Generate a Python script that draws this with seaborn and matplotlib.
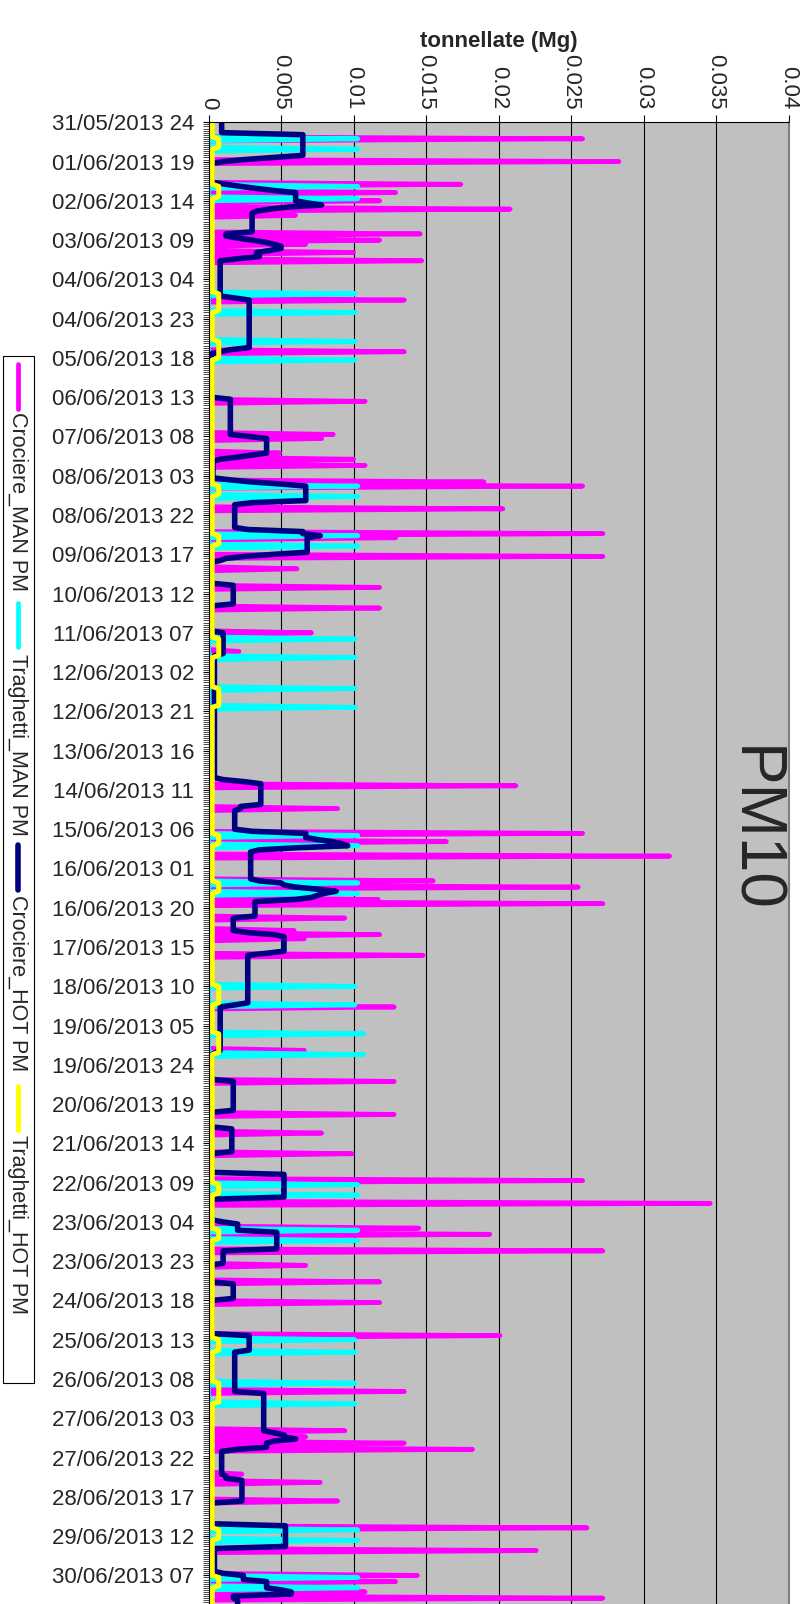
import numpy as np
import pandas as pd
import matplotlib
matplotlib.use("Agg")
import matplotlib.pyplot as plt
from matplotlib.lines import Line2D
from matplotlib.patches import Rectangle
import seaborn as sns

# ---------------------------------------------------------------- data
# hourly series, from 31/05/2013 24 to 30/06/2013 24
N_HOURS = 721

TICK_HOURS = list(range(0, 704, 19))
TICK_LABELS = [
    "31/05/2013 24", "01/06/2013 19", "02/06/2013 14", "03/06/2013 09",
    "04/06/2013 04", "04/06/2013 23", "05/06/2013 18", "06/06/2013 13",
    "07/06/2013 08", "08/06/2013 03", "08/06/2013 22", "09/06/2013 17",
    "10/06/2013 12", "11/06/2013 07", "12/06/2013 02", "12/06/2013 21",
    "13/06/2013 16", "14/06/2013 11", "15/06/2013 06", "16/06/2013 01",
    "16/06/2013 20", "17/06/2013 15", "18/06/2013 10", "19/06/2013 05",
    "19/06/2013 24", "20/06/2013 19", "21/06/2013 14", "22/06/2013 09",
    "23/06/2013 04", "23/06/2013 23", "24/06/2013 18", "25/06/2013 13",
    "26/06/2013 08", "27/06/2013 03", "27/06/2013 22", "28/06/2013 17",
    "29/06/2013 12", "30/06/2013 07",
]

VALUE_TICKS = [0, 0.005, 0.01, 0.015, 0.02, 0.025, 0.03, 0.035, 0.04]
VALUE_TICK_LABELS = ["0", "0.005", "0.01", "0.015", "0.02", "0.025",
                     "0.03", "0.035", "0.04"]

# Crociere_MAN PM: hours with emissions (zero elsewhere)
CROC_MAN_HOURS = [8, 19, 30, 34, 38, 42, 45, 54, 57, 59, 63, 67, 86, 111,
                  135, 151, 153, 160, 163, 166, 174, 176, 187, 199, 201,
                  210, 216, 225, 235, 247, 256, 321, 332, 344, 348, 355,
                  367, 370, 376, 378, 385, 391, 393, 395, 403, 428, 449,
                  464, 480, 489, 499, 512, 523, 535, 538, 546, 553, 561,
                  571, 587, 614, 633, 636, 639, 642, 654, 658, 667, 680,
                  691, 703, 706, 711, 714]
CROC_MAN_VALUES = [0.0258, 0.0283, 0.0174, 0.0129, 0.0118, 0.0208, 0.0060,
                   0.0146, 0.0118, 0.0067, 0.0100, 0.0147, 0.0135, 0.0135,
                   0.0108, 0.0086, 0.0078, 0.0049, 0.0100, 0.0108, 0.0190,
                   0.0258, 0.0203, 0.0272, 0.0129, 0.0272, 0.0061, 0.0118,
                   0.0118, 0.0071, 0.0021, 0.0212, 0.0089, 0.0258, 0.0164,
                   0.0318, 0.0155, 0.0255, 0.0117, 0.0272, 0.0094, 0.0059,
                   0.0118, 0.0066, 0.0148, 0.0128, 0.0066, 0.0128, 0.0128,
                   0.0078, 0.0099, 0.0258, 0.0346, 0.0145, 0.0194, 0.0272,
                   0.0067, 0.0118, 0.0118, 0.0201, 0.0135, 0.0094, 0.0067,
                   0.0135, 0.0182, 0.0023, 0.0077, 0.0089, 0.0261, 0.0226,
                   0.0144, 0.0129, 0.0108, 0.0272]

# Traghetti_MAN PM: hours with emissions (zero elsewhere)
TRAG_MAN_HOURS = [8, 13, 31, 37, 83, 92, 106, 115, 176, 181, 200, 205,
                  250, 259, 274, 283, 345, 350, 368, 373, 418, 427, 441,
                  451, 514, 519, 536, 541, 589, 595, 610, 620, 681, 686,
                  704, 709]
TRAG_MAN_VALUES = [0.0103, 0.0103, 0.0103, 0.0103, 0.0101, 0.0101, 0.0101,
                   0.0101, 0.0103, 0.0103, 0.0103, 0.0103, 0.0101, 0.0101,
                   0.0101, 0.0101, 0.0103, 0.0103, 0.0103, 0.0103, 0.0101,
                   0.0101, 0.0107, 0.0107, 0.0103, 0.0103, 0.0103, 0.0103,
                   0.0101, 0.0101, 0.0101, 0.0101, 0.0103, 0.0103, 0.0103,
                   0.0103]

# Crociere_HOT PM: level held from each listed hour until the next one
CROC_HOT_FROM = [0, 6, 17, 18, 19, 20, 30, 31, 32, 33, 34, 39, 40, 41, 42,
                 43, 44, 54, 56, 57, 58, 59, 60, 62, 63, 64, 66, 67, 85, 86,
                 110, 111, 112, 134, 152, 153, 161, 162, 163, 164, 173, 174,
                 175, 176, 184, 185, 197, 198, 200, 201, 209, 210, 211, 212,
                 213, 224, 234, 247, 258, 318, 319, 320, 331, 333, 343, 344,
                 347, 348, 349, 350, 351, 352, 353, 367, 368, 369, 370, 371,
                 372, 373, 374, 375, 376, 377, 385, 392, 393, 394, 402, 403,
                 427, 428, 450, 451, 464, 479, 487, 499, 509, 521, 532, 533,
                 537, 546, 553, 562, 570, 587, 595, 615, 634, 635, 637, 638,
                 639, 642, 643, 655, 657, 668, 679, 690, 702, 703, 706, 710,
                 711, 713, 715]
CROC_HOT_LEVEL = [0.0009, 0.0065, 0.0045, 0.0025, 0.0010, 0.0002, 0.0012,
                  0.0022, 0.0033, 0.0045, 0.0060, 0.0068, 0.0078, 0.0055,
                  0.0042, 0.0033, 0.0030, 0.0012, 0.0020, 0.0030, 0.0039,
                  0.0045, 0.0050, 0.0042, 0.0033, 0.0035, 0.0020, 0.0008,
                  0.0018, 0.0028, 0.0015, 0.0008, 0.0002, 0.0015, 0.0028,
                  0.0040, 0.0030, 0.0020, 0.0008, 0.0003, 0.0015, 0.0030,
                  0.0050, 0.0067, 0.0030, 0.0018, 0.0027, 0.0065, 0.0077,
                  0.0068, 0.0045, 0.0025, 0.0012, 0.0008, 0.0002, 0.0017,
                  0.0002, 0.0010, 0.0004, 0.0010, 0.0025, 0.0036, 0.0022,
                  0.0018, 0.0030, 0.0067, 0.0075, 0.0085, 0.0092, 0.0096,
                  0.0060, 0.0035, 0.0029, 0.0035, 0.0050, 0.0052, 0.0060,
                  0.0075, 0.0088, 0.0080, 0.0075, 0.0071, 0.0060, 0.0032,
                  0.0017, 0.0027, 0.0045, 0.0052, 0.0040, 0.0027, 0.0018,
                  0.0008, 0.0005, 0.0002, 0.0017, 0.0002, 0.0016, 0.0002,
                  0.0052, 0.0002, 0.0010, 0.0020, 0.0047, 0.0010, 0.0002,
                  0.0017, 0.0002, 0.0028, 0.0018, 0.0038, 0.0045, 0.0052,
                  0.0060, 0.0045, 0.0040, 0.0020, 0.0009, 0.0012, 0.0023,
                  0.0002, 0.0053, 0.0004, 0.0010, 0.0024, 0.0040, 0.0050,
                  0.0057, 0.0017, 0.0020]

# Traghetti_HOT PM: low base level, raised while the ferries are at berth
TRAG_HOT_BASE = 0.00025
TRAG_HOT_BERTH = 0.0007
TRAG_HOT_START = [8, 31, 83, 106, 176, 200, 250, 274, 345, 368, 418, 441,
                  514, 536, 589, 610, 681, 704]
TRAG_HOT_END = [12, 36, 91, 114, 180, 204, 258, 282, 349, 372, 426, 450,
                518, 540, 594, 619, 685, 708]

# ---------------------------------------------------------------- table
hours = np.arange(N_HOURS)

croc_man = np.zeros(N_HOURS)
croc_man[CROC_MAN_HOURS] = CROC_MAN_VALUES

trag_man = np.zeros(N_HOURS)
trag_man[TRAG_MAN_HOURS] = TRAG_MAN_VALUES

croc_hot = np.repeat(CROC_HOT_LEVEL, np.diff(CROC_HOT_FROM + [N_HOURS]))

trag_hot = np.full(N_HOURS, TRAG_HOT_BASE)
for a, b in zip(TRAG_HOT_START, TRAG_HOT_END):
    trag_hot[a:b + 1] = TRAG_HOT_BERTH

df = pd.DataFrame({
    "ora": hours,
    "Crociere_MAN PM": croc_man,
    "Traghetti_MAN PM": trag_man,
    "Crociere_HOT PM": croc_hot,
    "Traghetti_HOT PM": trag_hot,
})

SERIES = ["Crociere_MAN PM", "Traghetti_MAN PM", "Crociere_HOT PM",
          "Traghetti_HOT PM"]
COLORS = ["#FF00FF", "#00FFFF", "#000080", "#FFFF00"]
WIDTHS = [3.4, 3.4, 4.0, 3.6]

# ---------------------------------------------------------------- figure
sns.set_theme(style="white")
plt.rcParams["font.family"] = ["Liberation Sans", "DejaVu Sans"]

W, H = 806, 1604
fig = plt.figure(figsize=(W / 100, H / 100), dpi=100)
fig.patch.set_facecolor("white")


def fx(px):
    return px / W


def fy(py):
    return 1 - py / H


x0, x1 = 208.6, 788.5
y_top, y_bot = 122.3, 122.3 + 720 * 2.067
ax = fig.add_axes([fx(x0), fy(y_bot), fx(x1) - fx(x0), (y_bot - y_top) / H])
ax.set_facecolor("#C0C0C0")

for name, col, lw in zip(SERIES, COLORS, WIDTHS):
    sns.lineplot(data=df, x=name, y="ora", orient="y", estimator=None,
                 sort=False, color=col, linewidth=lw, legend=False, ax=ax,
                 solid_joinstyle="round", solid_capstyle="round")

ax.set_xlim(0, 0.04)
ax.set_ylim(720, 0)
ax.set_xlabel("")
ax.set_ylabel("")

# value axis on top
ax.xaxis.tick_top()
ax.set_xticks(VALUE_TICKS)
ax.set_xticklabels(VALUE_TICK_LABELS, rotation=-90, ha="center",
                   va="bottom", fontsize=16)
ax.tick_params(axis="x", which="major", direction="out", length=5,
               width=0.8, color="black", pad=4.3, top=True, bottom=False)
ax.grid(axis="x", color="black", linewidth=0.8)
ax.grid(axis="y", visible=False)
ax.set_axisbelow(True)

# category axis on the left with one tick per hour
ax.set_yticks(TICK_HOURS)
ax.set_yticklabels(TICK_LABELS, fontsize=16)
ax.set_yticks(hours, minor=True)
ax.tick_params(axis="y", which="both", direction="out", length=4.3,
               width=0.5, color="black", left=True, pad=6)
ax.tick_params(axis="y", which="major", width=0.8)

for side in ["top", "left"]:
    ax.spines[side].set_color("black")
    ax.spines[side].set_linewidth(0.8)
ax.spines["right"].set_color("#808080")
ax.spines["right"].set_linewidth(1.5)
ax.spines["bottom"].set_visible(False)

# axis title and chart title
fig.text(fx(498.5), fy(42), "tonnellate (Mg)", ha="center", va="center",
         fontsize=16, fontweight="bold")
fig.text(fx(752), fy(829), "PM10", rotation=-90, ha="center", va="center",
         fontsize=46)

# legend, drawn vertically at the left edge
fig.add_artist(Rectangle((fx(3), fy(1383)), fx(34) - fx(3),
                         (1383 - 356) / H, transform=fig.transFigure,
                         facecolor="white", edgecolor="black", linewidth=0.8))
LEG_LINE = [(364, 409), (603, 647), (845, 890), (1086, 1130)]
LEG_TEXT = [412, 654, 895, 1135]
for name, col, lw, (a, b), t in zip(SERIES, COLORS, WIDTHS, LEG_LINE,
                                    LEG_TEXT):
    fig.add_artist(Line2D([fx(17.5), fx(17.5)], [fy(a), fy(b)],
                          transform=fig.transFigure, color=col,
                          linewidth=lw, solid_capstyle="round"))
    fig.text(fx(17.5), fy(t), name, rotation=-90, ha="center", va="top",
             fontsize=15.5)

fig.savefig("out.png", dpi=100)
